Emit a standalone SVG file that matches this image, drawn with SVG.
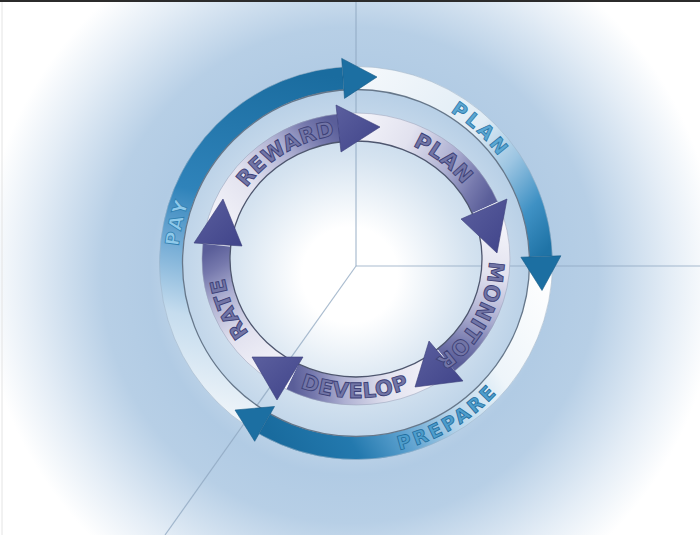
<svg xmlns="http://www.w3.org/2000/svg" xmlns:xlink="http://www.w3.org/1999/xlink" width="700" height="535" viewBox="0 0 700 535">
<defs>
<radialGradient id="bg" gradientUnits="userSpaceOnUse" cx="350" cy="275" r="400">
<stop offset="0" stop-color="#ffffff"/>
<stop offset="0.12" stop-color="#ffffff"/>
<stop offset="0.3" stop-color="#d5e3f0"/>
<stop offset="0.5" stop-color="#b1cbe4"/>
<stop offset="0.62" stop-color="#b7cfe6"/>
<stop offset="0.8" stop-color="#e4edf6"/>
<stop offset="0.92" stop-color="#ffffff"/>
</radialGradient>
<linearGradient id="gi" gradientUnits="userSpaceOnUse">
<stop offset="0" stop-color="#f8f8fc"/>
<stop offset="0.4" stop-color="#e2e2ef"/>
<stop offset="0.68" stop-color="#aeb0d2"/>
<stop offset="0.87" stop-color="#7679ad"/>
<stop offset="1" stop-color="#5a5e99"/>
</linearGradient>
<linearGradient id="gi1" xlink:href="#gi" gradientUnits="userSpaceOnUse" x1="216.8" y1="245.2" x2="338.9" y2="128"/>
<linearGradient id="gi2" xlink:href="#gi" gradientUnits="userSpaceOnUse" x1="338.9" y1="128" x2="484.9" y2="207.4"/>
<linearGradient id="gi3" xlink:href="#gi" gradientUnits="userSpaceOnUse" x1="484.9" y1="207.4" x2="446" y2="360.1"/>
<linearGradient id="gi4" xlink:href="#gi" gradientUnits="userSpaceOnUse" x1="446" y1="360.1" x2="292.4" y2="376.6"/>
<linearGradient id="gi5" xlink:href="#gi" gradientUnits="userSpaceOnUse" x1="292.4" y1="376.6" x2="216.8" y2="245.2"/>
<linearGradient id="gah" x1="0" y1="0" x2="1" y2="1">
<stop offset="0" stop-color="#5b5f9e"/>
<stop offset="1" stop-color="#40448a"/>
</linearGradient>
<linearGradient id="go1" gradientUnits="userSpaceOnUse" x1="264.6" y1="423.9" x2="343.1" y2="78.4">
<stop offset="0" stop-color="#eef4f9"/>
<stop offset="0.25" stop-color="#c5dcee"/>
<stop offset="0.45" stop-color="#6fa9d4"/>
<stop offset="0.6" stop-color="#2f83ba"/>
<stop offset="1" stop-color="#1a6c9f"/>
</linearGradient>
<linearGradient id="go2" gradientUnits="userSpaceOnUse" x1="343.1" y1="78.4" x2="540.9" y2="256.5">
<stop offset="0" stop-color="#f6f9fc"/>
<stop offset="0.5" stop-color="#e0ecf5"/>
<stop offset="0.68" stop-color="#9cc5e2"/>
<stop offset="0.85" stop-color="#3f91c4"/>
<stop offset="1" stop-color="#1f73a6"/>
</linearGradient>
<linearGradient id="go3" gradientUnits="userSpaceOnUse" x1="540.9" y1="256.5" x2="264.6" y2="423.9">
<stop offset="0" stop-color="#ffffff"/>
<stop offset="0.3" stop-color="#eef5fa"/>
<stop offset="0.5" stop-color="#b3d3ea"/>
<stop offset="0.65" stop-color="#5ea2d0"/>
<stop offset="0.8" stop-color="#2379ae"/>
<stop offset="1" stop-color="#196b9e"/>
</linearGradient>
<path id="tp-reward" d="M231,216.3 A133,125 0 0 1 367.6,134.5"/>
<path id="tp-plan-in" d="M367.6,134.5 A133,125 0 0 1 484.5,226.6"/>
<path id="tp-monitor" d="M487,237.3 A133,125 0 0 1 414.3,371.4"/>
<path id="tp-rate" d="M289.5,367.3 A133,125 0 0 1 228.2,224.6"/>
<path id="tp-develop" d="M252.1,357.3 A147,139 0 0 0 458.1,359"/>
<path id="tp-plan-out" d="M416.9,95.7 A178,178 0 0 1 518.6,190.6"/>
<path id="tp-pay" d="M180.7,293.9 A178,178 0 0 1 212,158.4"/>
<path id="tp-prepare" d="M322.7,452.1 A192,192 0 0 0 537.5,325.5"/>
</defs>
<style>
.bandi{fill:none;stroke-width:28}
.bando{fill:none;stroke-width:23}
.ahi{fill:url(#gah);stroke:#3a3e78;stroke-width:0.6}
.aho{fill:#1c6fa2;stroke:#155b86;stroke-width:0.6}
.ti{font-family:"DejaVu Sans",sans-serif;font-weight:bold;font-size:21px;letter-spacing:0.5px;fill:#7275a6;stroke:#3c4076;stroke-width:0.9;text-anchor:middle}
.to{font-family:"DejaVu Sans",sans-serif;font-weight:bold;font-size:19px;letter-spacing:3px;stroke-width:0.8;text-anchor:middle}
.bgline{stroke:#8ea6bf;stroke-width:1.2;opacity:0.75;fill:none}
</style>
<rect width="700" height="535" fill="url(#bg)"/>
<rect x="0" y="0" width="700" height="2" fill="#2b2b2b"/>
<line x1="2" y1="2" x2="2" y2="535" stroke="#e4e4e4" stroke-width="1"/>
<g id="backdrop-lines">
<line class="bgline" x1="356" y1="2" x2="356" y2="266"/>
<line class="bgline" x1="356" y1="266" x2="700" y2="266"/>
<line class="bgline" x1="356" y1="266" x2="165" y2="535"/>
</g>
<g id="outer-pay"><path class="bando" stroke="url(#go1)" d="M264.6,423.9 A185,185 0 0 1 343.1,78.4"/></g>
<g id="outer-plan"><path class="bando" stroke="url(#go2)" d="M343.1,78.4 A185,185 0 0 1 540.9,256.5"/></g>
<g id="outer-prepare"><path class="bando" stroke="url(#go3)" d="M540.9,256.5 A185,185 0 0 1 264.6,423.9"/></g>
<g id="inner-reward"><path class="bandi" stroke="url(#gi1)" d="M216.8,245.2 A140,132 0 0 1 338.9,128"/></g>
<g id="inner-plan"><path class="bandi" stroke="url(#gi2)" d="M338.9,128 A140,132 0 0 1 484.9,207.4"/></g>
<g id="inner-monitor"><path class="bandi" stroke="url(#gi3)" d="M484.9,207.4 A140,132 0 0 1 446,360.1"/></g>
<g id="inner-develop"><path class="bandi" stroke="url(#gi4)" d="M446,360.1 A140,132 0 0 1 292.4,376.6"/></g>
<g id="inner-rate"><path class="bandi" stroke="url(#gi5)" d="M292.4,376.6 A140,132 0 0 1 216.8,245.2"/></g>
<g id="ring-edges" fill="none">
<circle cx="356" cy="263" r="173.5" stroke="#66778a" stroke-width="1.3"/>
<circle cx="356" cy="263" r="196.5" stroke="#9fb4c8" stroke-width="0.8" opacity="0.7"/>
<ellipse cx="356" cy="259" rx="126" ry="118" stroke="#4e566e" stroke-width="1.3"/>
<ellipse cx="356" cy="259" rx="154" ry="146" stroke="#9aa3bb" stroke-width="0.8" opacity="0.7"/>
</g>
<g id="connectors">
<polygon class="aho" points="341.7,58.4 377,77 344.5,98.4"/>
<polygon class="aho" points="560.9,255.8 542,290.5 520.9,257.2"/>
<polygon class="aho" points="254.7,441.3 235,410 274.5,406.5"/>
<polygon class="ahi" points="336,105 380,127 341,152"/>
<polygon class="ahi" points="507,199 497,253 461,219"/>
<polygon class="ahi" points="463,381 415,387 429,341"/>
<polygon class="ahi" points="303,357 252,357 277,400"/>
<polygon class="ahi" points="194,243 223,199 242,246"/>
</g>
<g id="labels">
<g id="label-reward"><text class="ti"><textPath xlink:href="#tp-reward" startOffset="50%">REWARD</textPath></text></g>
<g id="label-plan-inner"><text class="ti"><textPath xlink:href="#tp-plan-in" startOffset="50%">PLAN</textPath></text></g>
<g id="label-monitor"><text class="ti"><textPath xlink:href="#tp-monitor" startOffset="50%">MONITOR</textPath></text></g>
<g id="label-develop"><text class="ti"><textPath xlink:href="#tp-develop" startOffset="50%">DEVELOP</textPath></text></g>
<g id="label-rate"><text class="ti"><textPath xlink:href="#tp-rate" startOffset="50%">RATE</textPath></text></g>
<g id="label-plan-outer"><text class="to" fill="#5aa7d3" stroke="#2d78a8"><textPath xlink:href="#tp-plan-out" startOffset="50%">PLAN</textPath></text></g>
<g id="label-pay"><text class="to" fill="#8fcaeb" stroke="#2f7fb0"><textPath xlink:href="#tp-pay" startOffset="50%">PAY</textPath></text></g>
<g id="label-prepare"><text class="to" fill="#4d9dcc" stroke="#1f6c9c"><textPath xlink:href="#tp-prepare" startOffset="50%">PREPARE</textPath></text></g>
</g>
</svg>
